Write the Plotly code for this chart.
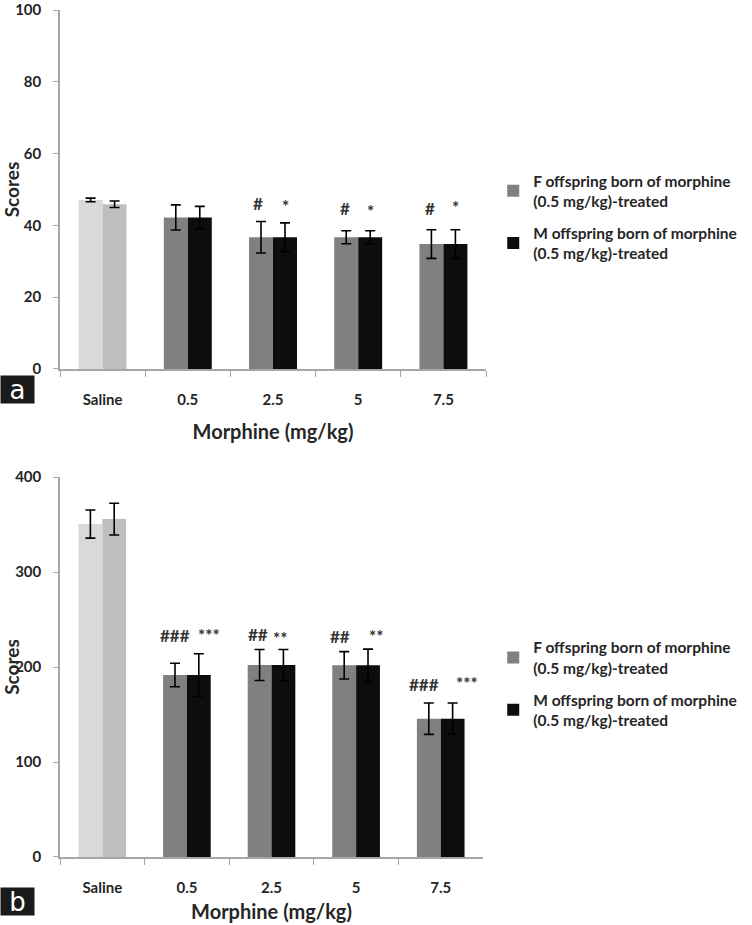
import plotly.graph_objects as go
from plotly.subplots import make_subplots

# doses on the x axis (first one is the saline control)
doses = ["Saline", "0.5", "2.5", "5", "7.5"]

# panel a
a_f_mean = [47.1, 42.2, 36.7, 36.7, 34.8]
a_f_err = [0.5, 3.5, 4.4, 1.8, 4.0]
a_m_mean = [45.9, 42.2, 36.7, 36.7, 34.8]
a_m_err = [0.9, 3.1, 4.0, 1.8, 4.0]
a_f_marks = ["", "", "#", "#", "#"]
a_m_marks = ["", "", "*", "*", "*"]

# panel b
b_f_mean = [350.5, 191.6, 202.1, 201.8, 145.6]
b_f_err = [14.8, 12.3, 16.3, 14.4, 16.5]
b_m_mean = [355.7, 191.6, 202.1, 201.8, 145.6]
b_m_err = [16.7, 22.3, 16.3, 17.0, 16.5]
b_f_marks = ["", "###", "##", "##", "###"]
b_m_marks = ["", "***", "**", "**", "***"]

f_name = "F offspring born of morphine<br>(0.5 mg/kg)-treated"
m_name = "M offspring born of morphine<br>(0.5 mg/kg)-treated"

FONT = "Lato"
TXT = "#262626"

fig = make_subplots(rows=2, cols=1)

def err(arr):
    return dict(type="data", array=arr, color="black", thickness=1.6, width=5)

panels = [
    (1, a_f_mean, a_f_err, a_m_mean, a_m_err, "legend"),
    (2, b_f_mean, b_f_err, b_m_mean, b_m_err, "legend2"),
]
for row, fm, fe, mm, me, leg in panels:
    # saline controls
    fig.add_trace(go.Bar(x=doses[:1], y=fm[:1], offsetgroup="f", showlegend=False,
                         marker=dict(color="#d9d9d9", line=dict(width=0)), error_y=err(fe[:1])),
                  row=row, col=1)
    fig.add_trace(go.Bar(x=doses[:1], y=mm[:1], offsetgroup="m", showlegend=False,
                         marker=dict(color="#bfbfbf", line=dict(width=0)), error_y=err(me[:1])),
                  row=row, col=1)
    # morphine doses
    fig.add_trace(go.Bar(x=doses[1:], y=fm[1:], offsetgroup="f", name=f_name, legend=leg,
                         legendgroup="f" + leg,
                         marker=dict(color="#808080", line=dict(width=0)), error_y=err(fe[1:])),
                  row=row, col=1)
    fig.add_trace(go.Bar(x=doses[1:], y=mm[1:], offsetgroup="m", name=m_name, legend=leg,
                         legendgroup="m" + leg,
                         marker=dict(color="#0d0d0d", line=dict(width=0)), error_y=err(me[1:])),
                  row=row, col=1)

ann = []
def add_marks(xref, yref, means, errs, marks, xoff, shifts, extra_x):
    for i, t in enumerate(marks):
        if not t:
            continue
        ann.append(dict(x=i, y=means[i] + errs[i], xref=xref, yref=yref, text=t,
                        showarrow=False, xshift=xoff + extra_x[i], yshift=shifts[i],
                        yanchor="middle",
                        font=dict(family=FONT, size=17, weight="bold", color="#333333")))

add_marks("x", "y", a_f_mean, a_f_err, a_f_marks, -13, [18, 18, 18, 22, 21], [0, 0, -2, 0, 0])
add_marks("x", "y", a_m_mean, a_m_err, a_m_marks, 12, [18, 18, 16, 19, 22], [0, 0, 0, 0, 0])
add_marks("x2", "y2", b_f_mean, b_f_err, b_f_marks, -12, [0, 28, 15, 15, 19], [0, 0, -2, -4, -5])
add_marks("x2", "y2", b_m_mean, b_m_err, b_m_marks, 12, [0, 18, 11, 13, 20], [0, 10, -4, 8, 14])

# panel letters
for letter, yp in [("a", 0.5514), ("b", -0.052)]:
    ann.append(dict(text=letter, x=-0.1408, y=yp, xref="paper", yref="paper",
                    xanchor="left", yanchor="middle", showarrow=False,
                    bgcolor="#1a1a1a", width=33, height=27, borderpad=0,
                    font=dict(family="DejaVu Sans", size=26, color="white")))

tick_font = dict(family=FONT, size=15, weight="bold", color=TXT)
axis_common = dict(showline=True, linecolor="#a6a6a6", linewidth=1.5, showgrid=False,
                   zeroline=False, ticks="outside", tickcolor="#a6a6a6",
                   tickfont=tick_font, automargin=False, ticklabeloverflow="allow")

fig.update_xaxes(**axis_common, tickson="boundaries", ticklen=6, ticklabelstandoff=16,
                 range=[-0.5, 4.5], categoryorder="array", categoryarray=doses,
                 title=dict(text="Morphine (mg/kg)",
                            font=dict(family=FONT, size=20, weight="bold", color=TXT)))
fig.update_xaxes(title_standoff=18, row=1, col=1)
fig.update_xaxes(title_standoff=10, domain=[0, 0.993], row=2, col=1)
fig.update_yaxes(**axis_common, ticklen=5, ticklabelstandoff=9,
                 title=dict(text="Scores", font=dict(family=FONT, size=19, weight="bold", color=TXT),
                            standoff=0))
fig.update_yaxes(range=[0, 100], dtick=20, domain=[0.5762, 1.0], row=1, col=1)
fig.update_yaxes(range=[0, 400], dtick=100, domain=[0.0, 0.4486], row=2, col=1)

leg_common = dict(xanchor="left", yanchor="top", x=1.017, tracegroupgap=9,
                  font=dict(family=FONT, size=15.5, weight="bold", color=TXT),
                  bgcolor="rgba(0,0,0,0)")
fig.update_layout(
    width=752, height=925,
    margin=dict(l=60, r=266, t=10, b=68),
    paper_bgcolor="white", plot_bgcolor="white",
    barmode="group", bargap=0.437, bargroupgap=0,
    legend=dict(**leg_common, y=0.818),
    legend2=dict(**leg_common, y=0.267),
    annotations=ann,
)

# drop the default page margin so the figure fills the window
fig.write_html("out.html", config={"displayModeBar": False},
               post_script="document.body.style.margin='0';")
